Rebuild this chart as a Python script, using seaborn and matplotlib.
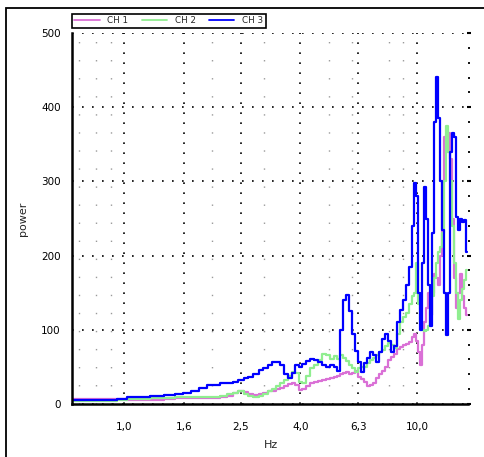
import numpy as np
import pandas as pd
import matplotlib
matplotlib.use("Agg")
import matplotlib.pyplot as plt
import seaborn as sns
from matplotlib.ticker import FixedLocator, FixedFormatter, NullFormatter, MultipleLocator
from matplotlib.patches import Rectangle

# ---- data ----
freq_hz = [0.665, 0.77, 0.90, 1.00, 1.05, 1.16, 1.30, 1.44, 1.55, 1.64, 1.75, 1.86, 1.97,
           2.08, 2.19, 2.30, 2.41, 2.51, 2.61, 2.71, 2.82, 2.94, 3.05, 3.15, 3.25, 3.36,
           3.46, 3.57, 3.69, 3.80, 3.90, 3.99, 4.12, 4.25, 4.38, 4.52, 4.67, 4.82, 4.97,
           5.13, 5.29, 5.42, 5.55, 5.68, 5.81, 5.95, 6.10, 6.24, 6.39, 6.54, 6.70, 6.86,
           7.02, 7.19, 7.36, 7.54, 7.72, 7.90, 8.09, 8.28, 8.48, 8.68, 8.89, 9.10, 9.32,
           9.54, 9.69, 9.84, 10.00, 10.16, 10.32, 10.48, 10.65, 10.82, 10.99, 11.16, 11.34,
           11.52, 11.70, 11.89, 12.08, 12.27, 12.46, 12.66, 12.86, 13.06, 13.27, 13.48,
           13.69, 13.91, 14.13, 14.35, 14.58, 14.81]

ch1 = [6.5, 6.5, 6.5, 6.5, 5, 5, 5.5, 7, 8, 8, 8, 8, 8,
       8.5, 10, 11, 15, 18, 16, 13, 12, 13, 15, 17, 18, 20,
       22, 24, 27, 28, 26, 19, 20, 24, 28, 29, 31, 33, 34,
       35, 37, 38, 40, 42, 43, 41, 42, 44, 37, 34, 30, 24,
       25, 28, 35, 40, 44, 50, 59, 63, 68, 74, 77, 80, 81,
       83, 90, 95, 85, 70, 52, 80, 110, 130, 150, 120, 150,
       175, 170, 160, 200, 300, 360, 340, 365, 330, 250, 170,
       130, 150, 175, 145, 130, 120]

ch2 = [4.5, 4.5, 4.5, 5, 7, 7, 7.5, 8, 9, 9, 9.5, 10, 10,
       10, 11, 13, 15, 17, 14, 11, 10, 11, 14, 17, 20, 24,
       28, 33, 38, 43, 42, 30, 28, 38, 48, 52, 59, 68, 66,
       60, 65, 60, 66, 62, 58, 52, 48, 43, 49, 50, 50, 55,
       59, 62, 66, 70, 73, 78, 82, 80, 75, 95, 110, 117, 122,
       135, 145, 150, 190, 135, 110, 100, 98, 100, 105, 120, 145,
       170, 190, 205, 212, 230, 300, 374, 340, 300, 240, 190,
       150, 115, 140, 155, 167, 180]

ch3 = [6, 6, 6, 6.5, 9, 10, 10.5, 12, 14, 15, 18, 22, 25,
       26, 28, 28, 30, 33, 35, 36, 40, 46, 49, 53, 56, 57,
       52, 40, 35, 42, 52, 50, 54, 58, 60, 59, 56, 52, 50,
       53, 50, 44, 100, 140, 147, 125, 95, 72, 56, 43, 55, 62,
       70, 66, 57, 70, 88, 95, 85, 70, 78, 111, 127, 140, 160,
       185, 240, 298, 280, 150, 100, 190, 292, 250, 160, 105, 230,
       380, 441, 385, 300, 235, 150, 93, 150, 340, 365, 360,
       252, 235, 250, 245, 248, 205]

channels = ["CH 1", "CH 2", "CH 3"]
colors = ["#DA70D6", "#90EE90", "#0000FF"]

x_major = [1.0, 1.6, 2.5, 4.0, 6.3, 10.0]
x_major_labels = ["1,0", "1,6", "2,5", "4,0", "6,3", "10,0"]
x_minor = [0.7, 0.8, 0.9, 2.0, 3.0, 5.0, 6.0, 8.0, 9.0]
y_major = [0, 100, 200, 300, 400, 500]

# ---- plot ----
sns.set_style("white")
plt.rcParams['font.family'] = ['DejaVu Sans']

df = pd.DataFrame({
    "Hz": freq_hz * 3,
    "power": ch1 + ch2 + ch3,
    "channel": [c for c in channels for _ in freq_hz],
})

W, H = 485, 457
fig = plt.figure(figsize=(W / 100, H / 100), dpi=100)
ax = fig.add_axes([72 / W, (H - 404) / H, 396.5 / W, 371 / H])
ax.set_xscale("log")

sns.lineplot(data=df, x="Hz", y="power", hue="channel",
             palette=dict(zip(channels, colors)), ax=ax,
             drawstyle="steps-mid", linewidth=1.6, estimator=None, sort=True)

ax.set_xlim(0.665, 15.0)
ax.set_ylim(0, 500)

ax.xaxis.set_major_locator(FixedLocator(x_major))
ax.xaxis.set_major_formatter(FixedFormatter(x_major_labels))
ax.xaxis.set_minor_locator(FixedLocator(x_minor))
ax.xaxis.set_minor_formatter(NullFormatter())
ax.yaxis.set_major_locator(FixedLocator(y_major))
ax.yaxis.set_minor_locator(MultipleLocator(20))

ax.set_axisbelow(True)
ax.grid(True, which='major', axis='both', color='black', linestyle=(0, (1, 5)), linewidth=1.2)
ax.grid(True, which='minor', axis='x', color='#9a9a9a', linestyle=(0, (1, 12)), linewidth=1.0)

for s in ['top', 'right']:
    ax.spines[s].set_visible(False)
for s in ['left', 'bottom']:
    ax.spines[s].set_color('black')
    ax.spines[s].set_linewidth(1.8)

ax.tick_params(axis='both', which='major', direction='inout', length=6, width=1.5,
               colors='black', labelsize=7.5)
ax.tick_params(axis='both', which='minor', direction='inout', length=4, width=1.2,
               colors='black')
ax.tick_params(axis='y', which='both', right=False)
ax.tick_params(axis='y', which='major', pad=5)
ax.tick_params(axis='x', which='major', pad=10)

# small dashes along the right edge
sec = ax.secondary_yaxis('right')
sec.yaxis.set_major_locator(FixedLocator(y_major))
sec.yaxis.set_minor_locator(MultipleLocator(20))
sec.yaxis.set_major_formatter(NullFormatter())
sec.spines['right'].set_visible(False)
sec.tick_params(which='major', direction='inout', length=3.5, width=1.5, colors='black')
sec.tick_params(which='minor', direction='inout', length=2, width=1.3, colors='black')

ax.set_xlabel("")
ax.set_ylabel("")
fig.text(271 / W, 1 - 445 / H, "Hz", ha='center', va='center', fontsize=8)
fig.text(23 / W, 1 - 219 / H, "power", ha='center', va='center', rotation=90, fontsize=8)

handles, labels = ax.get_legend_handles_labels()
leg = ax.legend(handles, labels, loc='lower left',
                bbox_to_anchor=(72 / W, 1 - 27.5 / H), bbox_transform=fig.transFigure,
                ncol=3, fontsize=6.3, frameon=True, fancybox=False, edgecolor='black',
                borderpad=0.25, handlelength=2.9, handletextpad=0.9, columnspacing=1.5,
                borderaxespad=0, framealpha=1)
leg.get_frame().set_linewidth(1.2)
for l in leg.get_lines():
    l.set_linewidth(1.3)

fig.add_artist(Rectangle((6 / W, -0.05), 1.2, 1 - 7.5 / H + 0.05, transform=fig.transFigure,
                         fill=False, edgecolor='black', linewidth=1.3))

fig.savefig("out.png", dpi=100)
